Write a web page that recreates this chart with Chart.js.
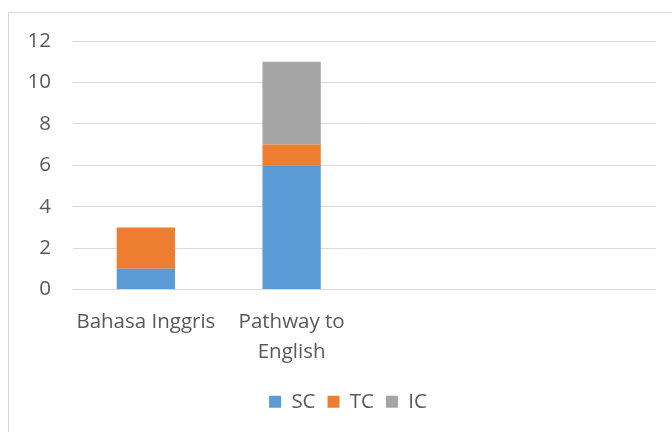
<!DOCTYPE html>
<html>
<head>
<meta charset="utf-8">
<script src="https://cdn.jsdelivr.net/npm/chart.js@4/dist/chart.umd.min.js"></script>
<style>
html,body{margin:0;padding:0;background:#fff;}
#wrap{position:relative;width:672px;height:432px;}
</style>
</head>
<body>
<div id="wrap"><canvas id="c" width="672" height="432"></canvas></div>
<script>
const categories = ["Bahasa Inggris", ["Pathway to", "English"], "", ""];
const seriesNames = ["SC", "TC", "IC"];
const scValues = [1, 6, null, null];
const tcValues = [2, 1, null, null];
const icValues = [0, 4, null, null];
const yTicks = [0, 2, 4, 6, 8, 10, 12];
const colors = ["#5b9bd5", "#ed7d31", "#a5a5a5"];

const FONT = "'Open Sans', 'Liberation Sans', sans-serif";
const TXT = "#595959";

const frame = {
  id: 'frame',
  beforeDraw(chart) {
    const ctx = chart.ctx;
    ctx.save();
    ctx.fillStyle = '#fff';
    ctx.fillRect(0, 0, chart.width, chart.height);
    ctx.strokeStyle = '#d9d9d9';
    ctx.lineWidth = 1;
    ctx.strokeRect(8.5, 12.5, 800, 600);
    ctx.restore();
    if (chart.legend && !chart.legend._shifted) {
      chart.legend.left += 20;
      chart.legend.right += 20;
      chart.legend._shifted = true;
    }
  }
};

new Chart(document.getElementById('c'), {
  type: 'bar',
  data: {
    labels: categories,
    datasets: [
      { label: seriesNames[0], data: scValues, backgroundColor: colors[0] },
      { label: seriesNames[1], data: tcValues, backgroundColor: colors[1] },
      { label: seriesNames[2], data: icValues, backgroundColor: colors[2] }
    ]
  },
  options: {
    responsive: false,
    animation: false,
    devicePixelRatio: 1,
    layout: { padding: { left: 0, right: 16, top: 41, bottom: 10 } },
    datasets: { bar: { barPercentage: 0.4, categoryPercentage: 1.0 } },
    scales: {
      x: {
        stacked: true,
        grid: { display: false, drawTicks: false },
        border: { display: false },
        ticks: { color: TXT, font: { family: FONT, size: 20.5, lineHeight: 1.45 }, maxRotation: 0, autoSkip: false, padding: 18 },
        afterFit(s) { s.height = 90; }
      },
      y: {
        stacked: true,
        min: 0, max: 12,
        afterBuildTicks(s) { s.ticks = yTicks.map(v => ({ value: v })); },
        grid: { color: '#d9d9d9', lineWidth: 1, drawTicks: false },
        border: { display: false },
        ticks: { color: TXT, font: { family: FONT, size: 20.5 }, padding: 22 },
        afterFit(s) { s.width = 73; }
      }
    },
    plugins: {
      legend: {
        position: 'bottom',
        labels: { color: TXT, font: { family: FONT, size: 20.5 }, boxWidth: 12, boxHeight: 12, padding: 12 }
      },
      tooltip: { enabled: false }
    }
  },
  plugins: [frame]
});
</script>
</body>
</html>
